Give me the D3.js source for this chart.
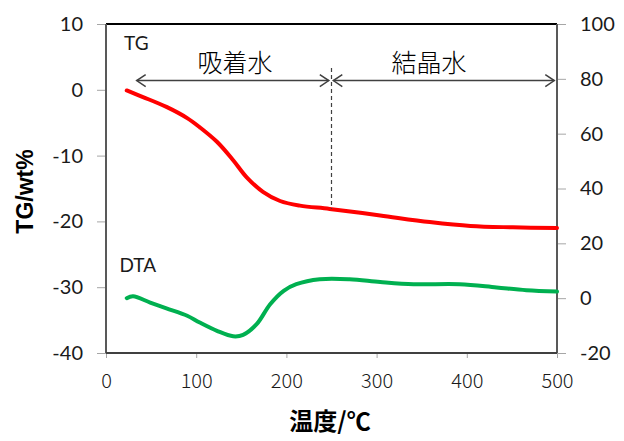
<!DOCTYPE html>
<html>
<head>
<meta charset="utf-8">
<script src="https://cdn.jsdelivr.net/npm/d3@7"></script>
<style>
  body { margin: 0; background: #fff; }
  .tick line { stroke: #a6a6a6; }
  .domain { display: none; }
</style>
</head>
<body>
<div id="chart"></div>
<script>
// DATA
const tgTemp  = [23, 41, 67, 90, 104, 123, 141, 156, 174, 193, 215, 248, 304, 359, 404, 451, 500];
const tgValue = [-0.1, -1.1, -2.6, -4.3, -5.7, -7.9, -10.7, -13.3, -15.5, -16.9, -17.6, -18.1, -19.1, -20.1, -20.7, -20.9, -21.0];

const dtaTemp  = [23, 30, 49, 67, 90, 104, 123, 141, 152, 167, 182, 197, 211, 237, 270, 304, 341, 392, 433, 466, 500];
const dtaValue = [0, 0.7, -1.6, -3.7, -6.4, -8.9, -11.9, -13.9, -13.4, -9.5, -2.2, 2.7, 5.1, 6.9, 6.9, 5.9, 5.1, 5.1, 3.9, 2.9, 2.4];

const xTicks = [0, 100, 200, 300, 400, 500];
const leftTicks = [-40, -30, -20, -10, 0, 10];
const rightTicks = [-20, 0, 20, 40, 60, 80, 100];

// regions (temperature) for the arrows
const adsorbedRange = [34, 247];
const crystalRange = [252, 497];
const boundaryTemp = 250;

// VIZ DIMENSIONS + MOUNTING
const width = 624;
const height = 441;
const margin = {top: 24, right: 67, bottom: 88, left: 106};
const plotW = width - margin.left - margin.right;
const plotH = height - margin.top - margin.bottom;

const svg = d3.select('#chart').append('svg')
  .attr('width', width)
  .attr('height', height);

const viz = svg.append('g')
  .attr('transform', `translate(${margin.left}, ${margin.top})`);

const x = d3.scaleLinear().domain([0, 500]).range([0, plotW]);
const yL = d3.scaleLinear().domain([-40, 10]).range([plotH, 0]);
const yR = d3.scaleLinear().domain([-20, 100]).range([plotH, 0]);

const numFont = 'Lato, "Liberation Sans", sans-serif';
const jpFont = '"Noto Sans CJK JP", sans-serif';
const plain = d => String(d);

// AXES
const leftAxis = viz.append('g')
  .call(d3.axisLeft(yL).tickValues(leftTicks).tickSize(9).tickPadding(14).tickFormat(plain));
leftAxis.selectAll('text')
  .style('font-family', numFont).style('font-size', '20px').style('fill', '#1a1a1a');

const rightAxis = viz.append('g')
  .attr('transform', `translate(${plotW}, 0)`)
  .call(d3.axisRight(yR).tickValues(rightTicks).tickSize(9).tickPadding(14).tickFormat(plain));
rightAxis.selectAll('text')
  .style('font-family', numFont).style('font-size', '20px').style('fill', '#1a1a1a');

const bottomAxis = viz.append('g')
  .attr('transform', `translate(0, ${plotH})`)
  .call(d3.axisBottom(x).tickValues(xTicks).tickSize(5).tickPadding(16).tickFormat(plain));
bottomAxis.selectAll('text')
  .style('font-family', jpFont).style('font-size', '20px').style('font-weight', 300).style('fill', '#1a1a1a');

// frame
viz.append('line').attr('x1', 0).attr('x2', plotW).attr('y1', 0).attr('y2', 0)
  .style('stroke', '#000').style('stroke-width', 2);
viz.append('line').attr('x1', 0).attr('x2', 0).attr('y1', 0).attr('y2', plotH)
  .style('stroke', '#595959').style('stroke-width', 2);
viz.append('line').attr('x1', plotW).attr('x2', plotW).attr('y1', 0).attr('y2', plotH)
  .style('stroke', '#595959').style('stroke-width', 2);
viz.append('line').attr('x1', 0).attr('x2', plotW).attr('y1', plotH).attr('y2', plotH)
  .style('stroke', '#404040').style('stroke-width', 2);

// CURVES
const tgData = tgTemp.map((t, i) => [t, tgValue[i]]);
const dtaData = dtaTemp.map((t, i) => [t, dtaValue[i]]);

viz.append('path')
  .datum(tgData)
  .attr('d', d3.line().x(d => x(d[0])).y(d => yL(d[1])).curve(d3.curveCatmullRom))
  .style('fill', 'none')
  .style('stroke', '#ff0000')
  .style('stroke-width', 4)
  .style('stroke-linecap', 'round');

viz.append('path')
  .datum(dtaData)
  .attr('d', d3.line().x(d => x(d[0])).y(d => yR(d[1])).curve(d3.curveCatmullRom))
  .style('fill', 'none')
  .style('stroke', '#00b050')
  .style('stroke-width', 4)
  .style('stroke-linecap', 'round');

// ANNOTATIONS
const arrowY = yL(1.4);

svg.append('defs').selectAll('marker')
  .data(['start', 'end'])
  .enter()
  .append('marker')
  .attr('id', d => 'arrow-' + d)
  .attr('viewBox', '-10 -10 20 20')
  .attr('markerWidth', 20)
  .attr('markerHeight', 20)
  .attr('markerUnits', 'userSpaceOnUse')
  .attr('orient', d => d === 'start' ? 0 : 180)
  .append('path')
  .attr('d', 'M9,-6 L0,0 L9,6')
  .style('fill', 'none')
  .style('stroke', '#404040')
  .style('stroke-width', 1.5);

[adsorbedRange, crystalRange].forEach(r => {
  viz.append('line')
    .attr('x1', x(r[0])).attr('x2', x(r[1]))
    .attr('y1', arrowY).attr('y2', arrowY)
    .style('stroke', '#404040')
    .style('stroke-width', 1.5)
    .attr('marker-start', 'url(#arrow-start)')
    .attr('marker-end', 'url(#arrow-end)');
});

// dashed boundary
viz.append('line')
  .attr('x1', x(boundaryTemp)).attr('x2', x(boundaryTemp))
  .attr('y1', yL(3.3)).attr('y2', yL(-18.1))
  .style('stroke', '#404040')
  .style('stroke-width', 1.2)
  .style('stroke-dasharray', '4,3');

viz.append('text')
  .attr('x', x(143))
  .attr('y', arrowY - 9)
  .attr('text-anchor', 'middle')
  .style('font-family', jpFont).style('font-size', '25px').style('font-weight', 300)
  .text('吸着水');

viz.append('text')
  .attr('x', x(358))
  .attr('y', arrowY - 9)
  .attr('text-anchor', 'middle')
  .style('font-family', jpFont).style('font-size', '25px').style('font-weight', 300)
  .text('結晶水');

viz.append('text')
  .attr('x', x(20))
  .attr('y', yL(6.0))
  .style('font-family', numFont).style('font-size', '19px').style('fill', '#1a1a1a')
  .text('TG');

viz.append('text')
  .attr('x', x(15))
  .attr('y', yR(9.5))
  .style('font-family', numFont).style('font-size', '19px').style('fill', '#1a1a1a')
  .text('DTA');

// AXIS TITLES
svg.append('text')
  .attr('transform', `translate(33, ${margin.top + plotH / 2 + 3}) rotate(-90)`)
  .attr('text-anchor', 'middle')
  .style('font-family', '"Liberation Sans", sans-serif').style('font-size', '23px').style('font-weight', 'bold')
  .text('TG/wt%');

svg.append('text')
  .attr('x', 330)
  .attr('y', 430)
  .attr('text-anchor', 'middle')
  .style('font-family', jpFont).style('font-size', '24px').style('font-weight', 'bold')
  .text('温度/℃');
</script>
</body>
</html>
